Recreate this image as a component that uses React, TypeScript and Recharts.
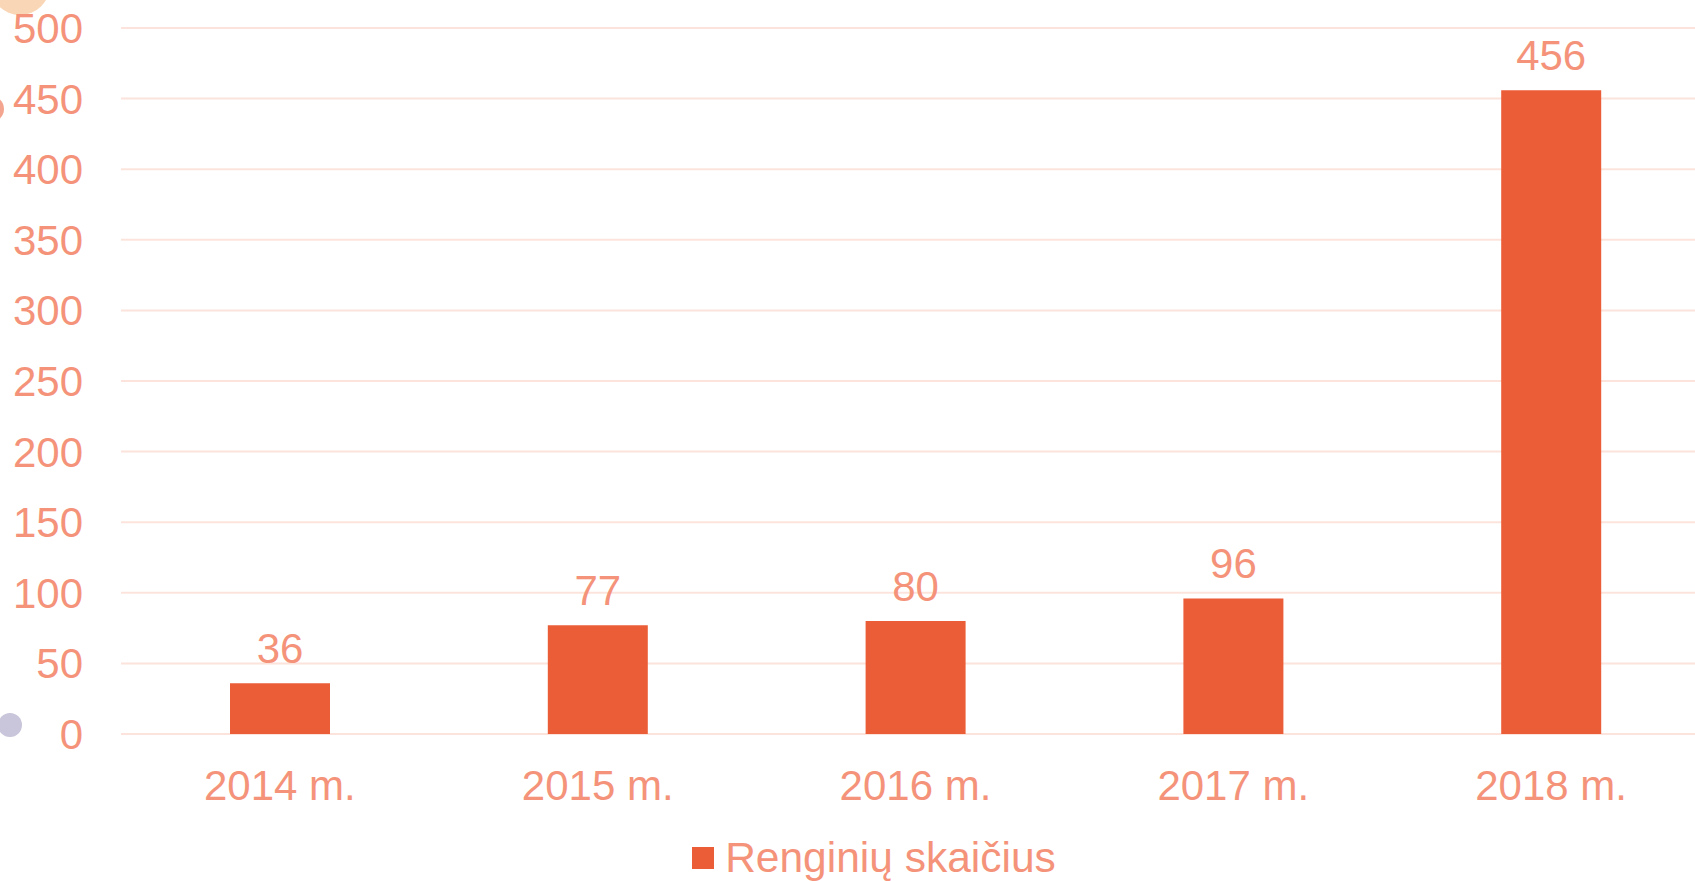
import React from 'react';
import { BarChart, Bar, XAxis, YAxis, CartesianGrid, Legend, LabelList } from 'recharts';

const years = ['2014 m.', '2015 m.', '2016 m.', '2017 m.', '2018 m.'];
const eventCounts = [36, 77, 80, 96, 456];
const yTicks = [0, 50, 100, 150, 200, 250, 300, 350, 400, 450, 500];
const seriesName = 'Renginių skaičius';

const TEXT = '#F4937A';
const BAR = '#EB5D37';
const GRID = '#FCE4DC';
const FONT = '"Liberation Sans", Arial, sans-serif';

const data = years.map((year, i) => ({ year, count: eventCounts[i] }));

function LegendBox() {
  return (
    <div
      style={{
        height: 50,
        boxSizing: 'border-box',
        display: 'flex',
        alignItems: 'center',
        justifyContent: 'center',
        paddingLeft: 38,
        paddingTop: 4,
        fontFamily: FONT,
        fontSize: 42.5,
        color: TEXT,
      }}
    >
      <span style={{ width: 22, height: 22, background: BAR, marginRight: 11, display: 'inline-block' }} />
      {seriesName}
    </div>
  );
}

export default function App() {
  return (
    <div style={{ position: 'absolute', left: 0, top: 0, width: 1695, height: 881, overflow: 'hidden', background: '#fff' }}>
      {/* slide decorations */}
      <div style={{ position: 'absolute', left: -10, top: -45, width: 60, height: 60, borderRadius: '50%', background: '#F9D6B6' }} />
      <div style={{ position: 'absolute', left: -22, top: 96, width: 26, height: 26, borderRadius: '50%', background: '#F4A58F' }} />
      <div style={{ position: 'absolute', left: -2, top: 713, width: 24, height: 24, borderRadius: '50%', background: '#C9C5DA' }} />
      <BarChart
        width={1695}
        height={881}
        data={data}
        margin={{ top: 28, right: -15, bottom: 0, left: 0 }}
        style={{ fontFamily: FONT }}
      >
        <CartesianGrid vertical={false} stroke={GRID} strokeWidth={2} />
        <XAxis
          dataKey="year"
          axisLine={false}
          tickLine={false}
          tickSize={0}
          tickMargin={36}
          height={97}
          tick={{ fill: TEXT, fontSize: 42 }}
        />
        <YAxis
          domain={[0, 500]}
          ticks={yTicks}
          axisLine={false}
          tickLine={false}
          tickSize={0}
          tickMargin={38}
          width={121}
          tick={{ fill: TEXT, fontSize: 42 }}
        />
        <Legend verticalAlign="bottom" content={() => <LegendBox />} />
        <Bar dataKey="count" name={seriesName} fill={BAR} barSize={100} isAnimationActive={false}>
          <LabelList dataKey="count" position="top" offset={20} fill={TEXT} fontSize={42} />
        </Bar>
      </BarChart>
    </div>
  );
}
